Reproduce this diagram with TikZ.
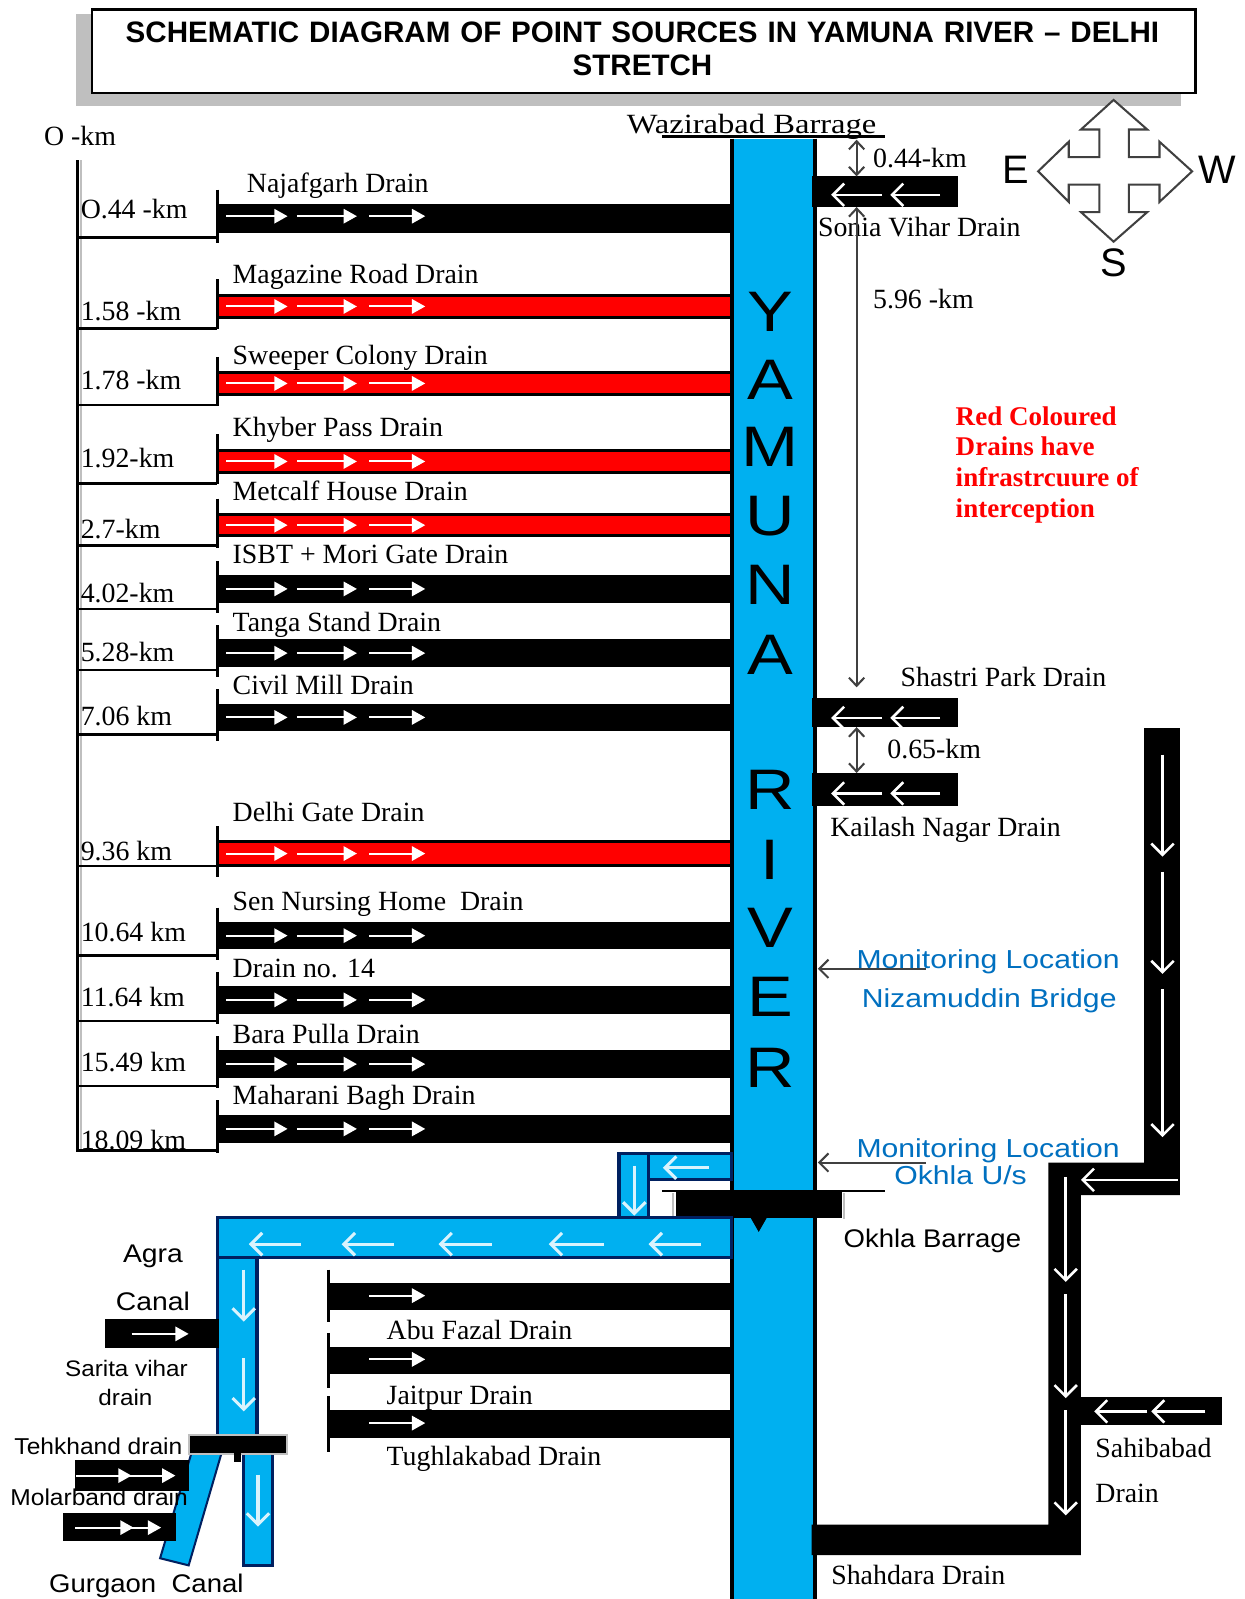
\documentclass[tikz,border=0pt]{standalone}
\usepackage{fontspec}
\setmainfont{Liberation Serif}
\newfontfamily\arialf{Liberation Sans}
\usetikzlibrary{arrows.meta}
\definecolor{rivblue}{HTML}{00B0F0}
\definecolor{navy}{HTML}{002060}
\definecolor{monblue}{HTML}{0070C0}
\definecolor{dimgray}{HTML}{404040}
\definecolor{shadegray}{HTML}{BFBFBF}
\newcommand\fs[1]{\fontsize{#1}{#1}\selectfont}
\tikzset{
  txt/.style={inner sep=0pt,anchor=base west,font=\fs{27.3}},
  riv/.style={inner sep=0pt,anchor=center,font=\arialf\fs{56},xscale=1.2},
  dir/.style={inner sep=0pt,anchor=center,font=\arialf\fs{39}},
  redt/.style={inner sep=0pt,anchor=base west,font=\fs{26.5}\bfseries,text=red},
  mont/.style={inner sep=0pt,anchor=base,font=\arialf\fs{25.5},text=monblue,xscale=1.16},
  canal/.style={fill=rivblue,draw=navy,line width=3pt},
  rflow/.style={draw=white,line width=2pt,-{Triangle[length=13pt,width=14pt,fill=white]}},
  lflow/.style={draw=white,line width=2.5pt,-{Straight Barb[length=11pt,width=22pt,line width=2.5pt]}},
  cflow/.style={draw=white!85!rivblue,line width=3pt,-{Straight Barb[length=11pt,width=22pt,line width=3pt]}},
  dimln/.style={draw=dimgray,line width=2pt,{Straight Barb[length=8pt,width=15pt]}-{Straight Barb[length=8pt,width=15pt]}},
  monarr/.style={draw=dimgray,line width=2pt,-{Straight Barb[length=9pt,width=18pt]}},
  stub/.style={draw=black,line width=3pt},
  tick/.style={draw=black,line width=2.5pt}
}
\begin{document}
\begin{tikzpicture}[x=1pt,y=-1pt]
\useasboundingbox (0,0) rectangle (1220,1568);
\fill[white] (0,0) rectangle (1220,1568);

% title shadow
\fill[shadegray] (75,14) rectangle (1158,104);

% compass
\draw[draw=dimgray,line width=2pt,fill=white,line join=miter]
  (1092,98)--(1125,127)--(1107,127)--(1107,154)--(1137,154)--(1137,139)--(1169,168)
  --(1137,198)--(1137,181)--(1107,181)--(1107,208)--(1125,208)--(1092,237)--(1060,208)
  --(1078,208)--(1078,181)--(1048,181)--(1048,198)--(1018,168)--(1048,139)--(1048,154)
  --(1078,154)--(1078,127)--(1060,127)--cycle;
\node[dir] (dirE) at (996,167) {E};
\node[dir] (dirW) at (1194,167) {W};
\node[dir] (dirS) at (1092,258) {S};

% title
\node[draw=black,line width=2.5pt,fill=white,minimum width=1082pt,minimum height=82pt,inner sep=0pt,anchor=north west] (title) at (89,8) {};
\node[inner sep=0pt,align=center,font=\arialf\bfseries\fs{29},text width=1060pt,anchor=center] (titletext) at (630,48)
  {SCHEMATIC DIAGRAM OF POINT SOURCES IN YAMUNA RIVER – DELHI\\[4pt]STRETCH};

% river
\fill[rivblue] (717,136) rectangle (800,1568);
\draw[black,line width=4pt] (718,136)--(718,1568) (799,136)--(799,1568);
\draw[black,line width=2.5pt] (649,134)--(868,134);
\node[txt,anchor=base,xscale=1.17] (waz) at (737,131) {Wazirabad Barrage};
\foreach \i/\c/\y in {1/Y/306,2/A/372,3/M/438,4/U/506,5/N/574,6/A/642,7/R/775,8/I/843,9/V/910,10/E/978,11/R/1047}
  \node[riv] (riv\i) at (755,\y) {\c};

% axis
\draw[shadegray,line width=2pt] (79,157)--(79,1130);
\draw[black,line width=3pt] (76,157)--(76,1130);
\foreach \i/\y/\t/\ty in {
  a/233/O.44 -km/205, b/322/1.58 -km/305, c/397/1.78 -km/373, d/474/1.92-km/449,
  e/535/2.7-km/519, f/597/4.02-km/582, g/657/5.28-km/640, h/720/7.06 km/702,
  i/849/9.36 km/835, j/937/10.64 km/914, k/1001/11.64 km/978, l/1065/15.49 km/1042, m/1128/18.09 km/1118}{
  \draw[tick] (76,\y)--(213,\y);
  \node[txt] (km\i) at (79,\ty+9) {\t};
}
\node[txt] (km0) at (43,143) {O -km};

% left drains
\foreach \id/\col/\ytop/\ybot/\lx/\ly/\t in {
  na/black/200/228/242/180/Najafgarh Drain,
  ma/red/288/313/228/269/Magazine Road Drain,
  sw/red/364/388/228/348/Sweeper Colony Drain,
  kh/red/440/465/228/419/Khyber Pass Drain,
  me/red/503/527/228/482/Metcalf House Drain,
  is/black/564/591/228/544/ISBT + Mori Gate Drain,
  ta/black/627/654/228/610/Tanga Stand Drain,
  ci/black/690/717/228/672/Civil Mill Drain,
  de/red/824/850/228/797/Delhi Gate Drain,
  se/black/904/931/228/884/Sen Nursing Home\ \ Drain,
  dr/black/967/994/228/950/Drain no. 14,
  ba/black/1030/1057/228/1014/Bara Pulla Drain,
  mh/black/1093/1121/228/1074/Maharani Bagh Drain}{
  \fill[black] (213,\ytop) rectangle (717,\ybot);
  \fill[\col] (215,\ytop+3) rectangle (716,\ybot-3);
  \draw[stub] (213,\ytop-14)--(213,\ybot+10);
  \coordinate (m\id) at (0,{(\ytop+\ybot)/2});
  \draw[rflow] (222,0 |- m\id)--(282,0 |- m\id);
  \draw[rflow] (291,0 |- m\id)--(350,0 |- m\id);
  \draw[rflow] (362,0 |- m\id)--(417,0 |- m\id);
  \node[txt] (l\id) at (\lx,\ly+9) {\t};
}
\fill[black] (213,200) rectangle (717,228);
\draw[rflow] (222,212)--(282,212);\draw[rflow] (291,212)--(350,212);\draw[rflow] (362,212)--(417,212);

% lower left drains
\foreach \id/\ytop/\ybot/\st/\sb/\ly/\t in {
  ab/1258/1285/1245/1296/1305/Abu Fazal Drain,
  ja/1321/1347/1307/1361/1368/Jaitpur Drain,
  tu/1383/1410/1369/1424/1428/Tughlakabad Drain}{
  \fill[black] (322,\ytop) rectangle (717,\ybot);
  \draw[stub] (322,\st)--(322,\sb);
  \coordinate (m\id) at (0,{(\ytop+\ybot)/2-1});
  \draw[rflow] (362,0 |- m\id)--(417,0 |- m\id);
  \node[txt] (l\id) at (379,\ly+9) {\t};
}

% right drains
\foreach \id/\ytop/\ybot/\ym in {so/173/203/191,sh/684/713/704,ka/758/790/778}{
  \fill[black] (796,\ytop) rectangle (939,\ybot);
  \draw[lflow] (865,\ym)--(815,\ym);
  \draw[lflow] (922,\ym)--(873,\ym);
}
\node[txt] (lso) at (802,232) {Sonia Vihar Drain};
\node[txt] (lsh) at (883,673) {Shastri Park Drain};
\node[txt] (lka) at (814,820) {Kailash Nagar Drain};

% dimensions
\coordinate (d0) at (840,137); \coordinate (d1) at (840,173);
\coordinate (d2) at (840,203); \coordinate (d3) at (840,674);
\coordinate (d4) at (840,713); \coordinate (d5) at (840,758);
\draw[dimln] (d0)--(d1);
\draw[dimln] (d2)--(d3);
\draw[dimln] (d4)--(d5);
\node[txt] (d044) at (856,164) {0.44-km};
\node[txt] (d596) at (856,303) {5.96 -km};
\node[txt] (d065) at (870,744) {0.65-km};

% red note
\node[redt] (r1) at (937,417) {Red Coloured};
\node[redt] (r2) at (937,447) {Drains have};
\node[redt] (r3) at (937,477) {infrastrcuure of};
\node[redt] (r4) at (937,507) {interception};

% monitoring
\node[mont] (m1) at (969,950) {Monitoring Location};
\node[mont] (m2) at (970,988) {Nizamuddin Bridge};
\node[mont] (m3) at (969,1135) {Monitoring Location};
\node[mont] (m4) at (942,1162) {Okhla U/s};
\coordinate (ma1) at (908,950); \coordinate (mb1) at (802,950);
\coordinate (ma2) at (908,1140); \coordinate (mb2) at (802,1140);
\draw[monarr] (ma1)--(mb1);
\draw[monarr] (ma2)--(mb2);

% small branch
\draw[canal] (607,1131) rectangle (636,1194);
\draw[canal] (636,1131) rectangle (717,1157);
\draw[cflow] (695,1145)--(650,1145);
\draw[cflow] (622,1143)--(622,1192);

% barrage
\draw[shadegray,line width=2pt] (660,1170)--(660,1195);
\draw[shadegray,line width=2pt] (828,1170)--(828,1195);
\fill[black] (663,1169) rectangle (826,1194);
\draw[black,line width=2.5pt] (649,1168)--(868,1168);

% canal main
\draw[canal] (213,1194) rectangle (717,1233);
\draw[canal] (213,1233) rectangle (252,1408);
\fill[black] (736,1194) -- (752,1194) -- (744,1208) -- cycle;
\foreach \a/\b in {295/244,386/335,482/430,592/538,687/636}
  \draw[cflow] (\a,1220)--(\b,1220);
\draw[cflow] (239,1245)--(239,1296);
\draw[cflow] (239,1332)--(239,1384);
\node[txt,font=\arialf\fs{25},xscale=1.11,anchor=base] (agra) at (150,1238) {Agra};
\node[txt,font=\arialf\fs{25},xscale=1.11,anchor=base] (canal) at (150,1285) {Canal};

% sarita vihar
\fill[black] (103,1293) rectangle (215,1322);
\draw[rflow] (129,1308)--(185,1308);
\node[txt,font=\arialf\fs{22},xscale=1.08,anchor=base] (sar1) at (124,1350) {Sarita vihar};
\node[txt,font=\arialf\fs{22},xscale=1.08,anchor=base] (sar2) at (123,1378) {drain};

% lower canals
\draw[canal,line width=2pt] (188,1424)--(217.5,1424)--(185,1535)--(157,1528)--cycle;
\draw[canal] (239,1421) rectangle (267,1535);
\draw[cflow] (253,1446)--(253,1497);
\fill[shadegray] (184,1406) rectangle (282,1427);
\fill[black] (186,1408) rectangle (280,1425);
\fill[black] (229,1425) rectangle (236,1434);
\fill[black] (73.5,1432) rectangle (185,1462);
\draw[rflow] (75,1447)--(129,1447);
\draw[rflow] (120,1447)--(172,1447);
\fill[black] (62,1484) rectangle (173,1511);
\draw[rflow] (74,1498)--(131,1498);
\draw[rflow] (118,1498)--(158,1498);
\node[txt,font=\arialf\fs{22.5},xscale=1.07] (teh) at (14,1426) {Tehkhand drain};
\node[txt,font=\arialf\fs{22.5},xscale=1.07] (mol) at (10,1476) {Molarband drain};
\node[txt,font=\arialf\fs{25},xscale=1.08] (gur) at (48,1562) {Gurgaon\ \ Canal};

% Shahdara system
\fill[black] (1122,714) -- (1157,714) -- (1157,1172) -- (1060,1172) -- (1060,1525) -- (796,1525)
  -- (796,1495) -- (1028,1495) -- (1028,1140) -- (1122,1140) -- cycle;
\fill[black] (1060,1370) rectangle (1198,1397);
\draw[lflow] (1140,740)--(1140,840);
\draw[lflow] (1140,855)--(1140,955);
\draw[lflow] (1140,970)--(1140,1115);
\draw[lflow] (1155,1157)--(1060,1157);
\draw[lflow] (1045,1154)--(1045,1257);
\draw[lflow] (1045,1269)--(1045,1371);
\draw[lflow] (1045,1383)--(1045,1486);
\draw[lflow] (1125,1384)--(1073,1384);
\draw[lflow] (1182,1384)--(1129,1384);
\node[txt] (sa1) at (1074,1429) {Sahibabad};
\node[txt] (sa2) at (1074,1473) {Drain};
\node[txt] (sd) at (815,1554) {Shahdara Drain};
\node[txt,font=\arialf\fs{25},xscale=1.08] (okb) at (827,1223) {Okhla Barrage};
\end{tikzpicture}
\end{document}
